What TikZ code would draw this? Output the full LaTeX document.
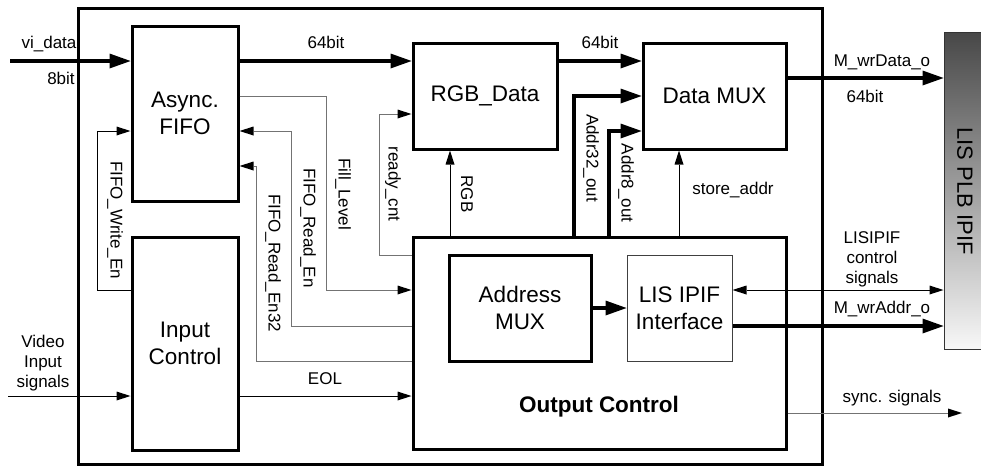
\documentclass[tikz,border=0pt]{standalone}
\usepackage{fontspec}
\setmainfont{Liberation Sans}
\usetikzlibrary{arrows.meta}

\begin{document}
\begin{tikzpicture}[x=1pt,y=-1pt,
  box/.style={draw, line width=3pt, inner sep=0pt, align=center,
    font=\fontsize{22.5}{27}\selectfont},
  lbl/.style={font=\fontsize{17}{20}\selectfont, inner sep=0pt, anchor=base},
  vlbl/.style={font=\fontsize{17}{20}\selectfont, inner sep=0pt, rotate=-90},
  bus/.style={line width=4pt, -{Triangle[length=21pt,width=15pt,line width=0pt]}},
  sig/.style={line width=1pt, -{Triangle[length=14pt,width=9pt,line width=0pt,color=black]}},
  gsig/.style={sig, draw=black!55},
]
\useasboundingbox (0,0) rectangle (981,466);

% enclosing block
\node[draw, line width=3pt, minimum width=744pt, minimum height=456pt] (core) at (450,236) {};

% functional blocks
\node[box, minimum width=106pt, minimum height=175pt] (fifo) at (185,113.5) {Async.\\FIFO};
\node[box, minimum width=106pt, minimum height=213pt] (ic) at (185,343.5) {Input\\Control};
\node[box, minimum width=144pt, minimum height=106pt] (rgb) at (485,96) {RGB\_Data};
\node[box, minimum width=143pt, minimum height=106pt] (mux) at (714.5,96) {Data MUX};
\node[box, minimum width=373pt, minimum height=212pt] (oc) at (599.5,343) {};
\node[font=\fontsize{22.5}{27}\selectfont\bfseries, inner sep=0pt, anchor=base] (octxt) at (599,412) {Output Control};
\node[box, minimum width=142pt, minimum height=106pt] (amux) at (520,308) {Address\\MUX};
\node[box, line width=1pt, draw=black!75, minimum width=105pt, minimum height=106pt] (ipif) at (679.5,308) {LIS IPIF\\Interface};

% bus interface
\node[draw=black!80, line width=1pt, top color=black!72, bottom color=black!3,
  minimum width=50pt, minimum height=317pt, inner sep=0pt] (plb) at (969,190.5) {};
\node[font=\fontsize{22}{26}\selectfont, inner sep=0pt, rotate=-90] (plbtxt) at (965,191) {LIS PLB IPIF};

% free ends
\coordinate (viin) at (10,61);
\coordinate (vidin) at (8,396);
\coordinate (syncout) at (962,413);

% data path
\draw[bus] (viin) -- (fifo.west |- viin);
\draw[bus] (fifo.east |- 0,61) -- (rgb.west |- 0,61);
\draw[bus] (rgb.east |- 0,61) -- (mux.west |- 0,61);
\draw[bus] (mux.east |- 0,78) -- (plb.west |- 0,78);
\draw[bus] (oc.north -| 574,0) |- (mux.west |- 0,96);
\draw[bus] (oc.north -| 609,0) |- (mux.west |- 0,131);
\draw[bus] (amux.east) -- (ipif.west);
\draw[bus] (ipif.east |- 0,326) -- (plb.west |- 0,326);

% control signals
\draw[sig] (oc.north -| 679,0) -- (mux.south -| 679,0);
\draw[sig] (oc.north -| 450,0) -- (rgb.south -| 450,0);
\draw[gsig] (oc.west |- 0,255) -| (379,114) -- (rgb.west |- 0,114);
\draw[gsig] (fifo.east |- 0,96) -| (326,290) -- (oc.west |- 0,290);
\draw[gsig] (oc.west |- 0,326) -| (291,131) -- (fifo.east |- 0,131);
\draw[gsig] (oc.west |- 0,361) -| (256,166) -- (fifo.east |- 0,166);
\draw[sig] (ic.west |- 0,290) -| (97,131) -- (fifo.west |- 0,131);
\draw[sig] (vidin) -- (ic.west |- vidin);
\draw[sig] (ic.east |- 0,396) -- (oc.west |- 0,396);
\draw[sig, {Triangle[length=14pt,width=9pt,line width=0pt]}-{Triangle[length=14pt,width=9pt,line width=0pt]}]
  (ipif.east |- 0,290) -- (plb.west |- 0,290);
\draw[gsig] (oc.east |- 0,413) -- (syncout);

% labels
\node[lbl] (l1) at (49,48) {vi\_data};
\node[lbl] (l2) at (61,84) {8bit};
\node[lbl] (l3) at (326,48) {64bit};
\node[lbl] (l4) at (600,48) {64bit};
\node[lbl] (l5) at (882,66) {M\_wrData\_o};
\node[lbl] (l6) at (865,102) {64bit};
\node[lbl] (l7) at (733,194) {store\_addr};
\node[lbl] (l8) at (325,384) {EOL};
\node[lbl] (l9) at (882,313) {M\_wrAddr\_o};
\node[lbl] (l10) at (892,402) {sync. signals};
\node[font=\fontsize{17}{20}\selectfont, inner sep=0pt, align=center] (l11) at (43,363) {Video\\Input\\signals};
\node[font=\fontsize{17}{20}\selectfont, inner sep=0pt, align=center] (l12) at (872,259) {LISIPIF\\control\\signals};
\node[vlbl] (v1) at (467,194) {RGB};
\node[vlbl] (v2) at (393,184) {ready\_cnt};
\node[vlbl] (v3) at (343,194) {Fill\_Level};
\node[vlbl] (v4) at (308,228) {FIFO\_Read\_En};
\node[vlbl] (v5) at (273,263) {FIFO\_Read\_En32};
\node[vlbl] (v6) at (115,220) {FIFO\_Write\_En};
\node[vlbl] (v7) at (591,158) {Addr32\_out};
\node[vlbl] (v8) at (626,183) {Addr8\_out};
\end{tikzpicture}
\end{document}
